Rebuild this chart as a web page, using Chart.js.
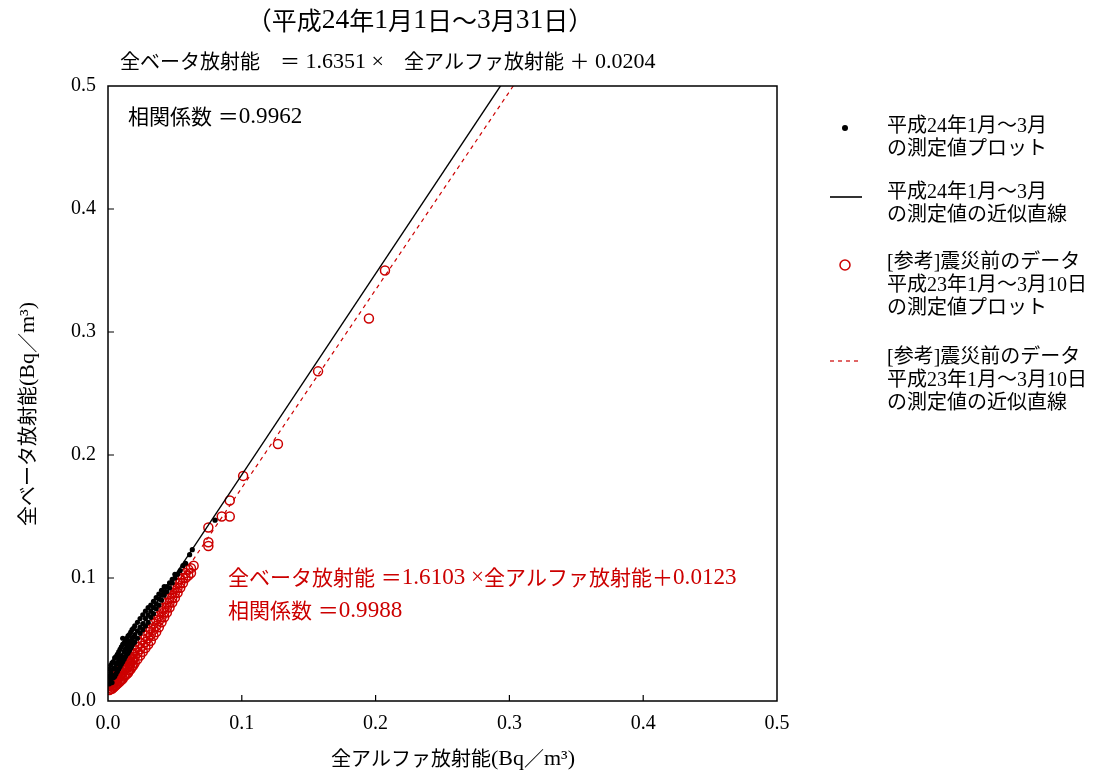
<!DOCTYPE html>
<html>
<head>
<meta charset="utf-8">
<script src="https://cdn.jsdelivr.net/npm/chart.js@4.4.1/dist/chart.umd.min.js"></script>
<style>
  html, body { margin: 0; padding: 0; background: #fff; }
  #wrap { width: 1097px; height: 776px; }
</style>
</head>
<body>
<div id="wrap"><canvas id="scatter" width="1097" height="776"></canvas></div>
<script>
// 平成24年1月～3月 の測定値 [全アルファ, 全ベータ] Bq/m3
const plot2012 = [
  [0.001,0.014],[0.001,0.020],[0.001,0.026],[0.002,0.017],[0.002,0.023],[0.002,0.029],
  [0.003,0.015],[0.003,0.021],[0.003,0.031],[0.004,0.019],[0.004,0.026],[0.004,0.032],
  [0.005,0.020],[0.005,0.027],[0.005,0.035],[0.006,0.022],[0.006,0.030],[0.006,0.036],
  [0.007,0.024],[0.007,0.031],[0.007,0.038],[0.008,0.026],[0.008,0.033],[0.008,0.040],
  [0.009,0.028],[0.009,0.035],[0.009,0.042],[0.010,0.030],[0.010,0.037],[0.010,0.044],
  [0.011,0.051],[0.011,0.032],[0.011,0.046],[0.012,0.034],[0.012,0.040],[0.012,0.047],
  [0.013,0.036],[0.013,0.042],[0.013,0.049],[0.014,0.038],[0.014,0.044],[0.014,0.051],
  [0.015,0.039],[0.015,0.046],[0.015,0.053],[0.016,0.041],[0.016,0.048],[0.016,0.054],
  [0.017,0.043],[0.017,0.049],[0.017,0.056],[0.018,0.045],[0.018,0.051],[0.018,0.058],
  [0.019,0.047],[0.019,0.052],[0.019,0.059],[0.020,0.048],[0.020,0.054],[0.020,0.061],
  [0.022,0.051],[0.022,0.057],[0.022,0.064],[0.024,0.055],[0.024,0.060],[0.024,0.067],
  [0.026,0.058],[0.026,0.063],[0.026,0.070],[0.028,0.061],[0.028,0.067],[0.028,0.073],
  [0.030,0.064],[0.030,0.070],[0.030,0.076],[0.032,0.068],[0.032,0.073],[0.032,0.078],
  [0.034,0.071],[0.034,0.076],[0.034,0.081],[0.036,0.075],[0.036,0.079],[0.036,0.084],
  [0.038,0.078],[0.038,0.083],[0.038,0.087],[0.040,0.082],[0.040,0.086],[0.040,0.090],
  [0.042,0.086],[0.042,0.089],[0.042,0.093],[0.044,0.089],[0.044,0.093],[0.046,0.092],
  [0.046,0.096],[0.048,0.096],[0.048,0.099],[0.050,0.100],[0.050,0.103],[0.052,0.103],
  [0.054,0.106],[0.056,0.110],[0.058,0.112],[0.061,0.119],[0.063,0.123],[0.080,0.147]
];

// 震災前 平成23年1月～3月10日 の測定値
const plot2011 = [
  [0.001,0.009],[0.001,0.012],[0.001,0.014],[0.002,0.010],[0.002,0.013],[0.002,0.015],
  [0.003,0.010],[0.003,0.014],[0.003,0.017],[0.004,0.011],[0.004,0.015],[0.004,0.018],
  [0.005,0.012],[0.005,0.016],[0.005,0.019],[0.006,0.013],[0.006,0.017],[0.006,0.021],
  [0.007,0.014],[0.007,0.018],[0.007,0.022],[0.008,0.015],[0.008,0.019],[0.008,0.023],
  [0.009,0.016],[0.009,0.020],[0.009,0.025],[0.010,0.017],[0.010,0.022],[0.010,0.026],
  [0.011,0.018],[0.011,0.023],[0.011,0.027],[0.012,0.020],[0.012,0.025],[0.012,0.029],
  [0.013,0.021],[0.013,0.026],[0.013,0.030],[0.014,0.022],[0.014,0.027],[0.014,0.032],
  [0.015,0.023],[0.015,0.028],[0.015,0.033],[0.016,0.025],[0.016,0.030],[0.016,0.035],
  [0.017,0.026],[0.017,0.031],[0.017,0.036],[0.018,0.028],[0.018,0.033],[0.018,0.038],
  [0.019,0.029],[0.019,0.034],[0.019,0.039],[0.020,0.031],[0.020,0.036],[0.020,0.041],
  [0.022,0.034],[0.022,0.039],[0.022,0.044],[0.024,0.037],[0.024,0.042],[0.024,0.047],
  [0.026,0.040],[0.026,0.045],[0.026,0.050],[0.028,0.043],[0.028,0.048],[0.028,0.053],
  [0.030,0.046],[0.030,0.051],[0.030,0.056],[0.032,0.049],[0.032,0.054],[0.032,0.059],
  [0.034,0.053],[0.034,0.058],[0.034,0.063],[0.036,0.056],[0.036,0.061],[0.036,0.066],
  [0.038,0.060],[0.038,0.065],[0.038,0.069],[0.040,0.064],[0.040,0.068],[0.040,0.073],
  [0.042,0.068],[0.042,0.072],[0.042,0.076],[0.044,0.072],[0.044,0.076],[0.044,0.080],
  [0.046,0.076],[0.046,0.080],[0.046,0.084],[0.048,0.080],[0.048,0.084],[0.048,0.088],
  [0.050,0.084],[0.050,0.088],[0.050,0.092],[0.052,0.088],[0.052,0.092],[0.052,0.096],
  [0.054,0.092],[0.054,0.096],[0.054,0.099],[0.056,0.096],[0.056,0.100],[0.058,0.100],
  [0.058,0.104],[0.060,0.102],[0.060,0.107],[0.062,0.104],[0.062,0.108],[0.064,0.110],
  [0.075,0.126],[0.075,0.129],[0.075,0.141],[0.085,0.150],[0.091,0.150],[0.091,0.163],
  [0.101,0.183],[0.127,0.209],[0.157,0.268],[0.195,0.311],[0.207,0.350]
];

// 近似直線 y = slope * x + intercept
const fit2012 = { slope: 1.6351, intercept: 0.0204, r: 0.9962 };
const fit2011 = { slope: 1.6103, intercept: 0.0123, r: 0.9988 };
const fitRange = [0, 0.32];

const axisTicks = [0.0, 0.1, 0.2, 0.3, 0.4, 0.5];

const legendItems = [
  { kind: "dot",    lines: ["平成24年1月～3月", "の測定値プロット"] },
  { kind: "line",   lines: ["平成24年1月～3月", "の測定値の近似直線"] },
  { kind: "circle", lines: ["[参考]震災前のデータ", "平成23年1月～3月10日", "の測定値プロット"] },
  { kind: "dash",   lines: ["[参考]震災前のデータ", "平成23年1月～3月10日", "の測定値の近似直線"] }
];

const RED = "#cc0000";
const LATIN = '"Liberation Serif", serif';
const CJK = '"Noto Sans CJK JP", sans-serif';
const FONT = '"Liberation Serif", "Noto Sans CJK JP", serif';

const toPoints = arr => arr.map(p => ({ x: p[0], y: p[1] }));
const fitLine = f => fitRange.map(x => ({ x, y: f.slope * x + f.intercept }));

// draw a string with latin runs a bit larger than the kanji/kana runs
function drawMixed(ctx, text, x, y, size, align) {
  const runs = [];
  for (const ch of text) {
    const latin = ch.charCodeAt(0) < 0x2000;
    const last = runs[runs.length - 1];
    if (last && last.latin === latin) last.t += ch;
    else runs.push({ t: ch, latin });
  }
  const fontOf = r => r.latin ? (size * 1.1) + "px " + LATIN : size + "px " + CJK;
  let total = 0;
  runs.forEach(r => { ctx.font = fontOf(r); r.w = ctx.measureText(r.t).width; total += r.w; });
  let cx = align === "center" ? x - total / 2 : x;
  ctx.textAlign = "left";
  ctx.textBaseline = "middle";
  runs.forEach(r => { ctx.font = fontOf(r); ctx.fillText(r.t, cx, y + (r.latin ? 1 : 0)); cx += r.w; });
}

const overlay = {
  id: "overlay",
  afterDraw(chart) {
    const { ctx, chartArea: a, scales } = chart;
    ctx.save();

    // frame
    ctx.strokeStyle = "#000";
    ctx.lineWidth = 1.5;
    ctx.strokeRect(a.left, a.top, a.right - a.left, a.bottom - a.top);

    // inward tick marks
    ctx.lineWidth = 1.2;
    ctx.beginPath();
    axisTicks.slice(1, -1).forEach(v => {
      const px = scales.x.getPixelForValue(v);
      ctx.moveTo(px, a.bottom);
      ctx.lineTo(px, a.bottom - 6);
      const py = scales.y.getPixelForValue(v);
      ctx.moveTo(a.left, py);
      ctx.lineTo(a.left + 6, py);
    });
    ctx.stroke();

    ctx.fillStyle = "#000";

    // titles
    drawMixed(ctx, "（平成24年1月1日～3月31日）", 420, 20, 25, "center");
    drawMixed(ctx, "全ベータ放射能　＝ " + fit2012.slope.toFixed(4) + " ×　全アルファ放射能 ＋ " +
      fit2012.intercept.toFixed(4), 120, 61, 20, "left");

    // correlation text inside the plot
    drawMixed(ctx, "相関係数 ＝" + fit2012.r.toFixed(4), 128, 116, 21, "left");
    ctx.fillStyle = RED;
    drawMixed(ctx, "全ベータ放射能 ＝" + fit2011.slope.toFixed(4) + " ×全アルファ放射能＋" +
      fit2011.intercept.toFixed(4), 228, 577, 21, "left");
    drawMixed(ctx, "相関係数 ＝" + fit2011.r.toFixed(4), 228, 610, 21, "left");

    // axis titles
    ctx.fillStyle = "#000";
    drawMixed(ctx, "全アルファ放射能(Bq／m³)", 453, 758, 20, "center");
    ctx.save();
    ctx.translate(27, 414);
    ctx.rotate(-Math.PI / 2);
    drawMixed(ctx, "全ベータ放射能(Bq／m³)", 0, 0, 20, "center");
    ctx.restore();

    // legend
    const tops = [127, 193, 263, 358];
    ctx.font = "20px " + FONT;
    ctx.textAlign = "left";
    ctx.textBaseline = "middle";
    legendItems.forEach((item, i) => {
      const y = tops[i];
      ctx.fillStyle = "#000";
      item.lines.forEach((t, j) => ctx.fillText(t, 887, y + j * 23));
      ctx.beginPath();
      if (item.kind === "dot") {
        ctx.arc(845, y + 1, 3, 0, Math.PI * 2);
        ctx.fill();
      } else if (item.kind === "line") {
        ctx.strokeStyle = "#000";
        ctx.lineWidth = 1.6;
        ctx.moveTo(830, y + 4);
        ctx.lineTo(862, y + 4);
        ctx.stroke();
      } else if (item.kind === "circle") {
        ctx.strokeStyle = RED;
        ctx.lineWidth = 1.5;
        ctx.arc(845, y + 2, 5, 0, Math.PI * 2);
        ctx.stroke();
      } else {
        ctx.strokeStyle = RED;
        ctx.lineWidth = 1.2;
        ctx.setLineDash([4, 4]);
        ctx.moveTo(830, y + 3);
        ctx.lineTo(862, y + 3);
        ctx.stroke();
        ctx.setLineDash([]);
      }
    });

    ctx.restore();
  }
};

new Chart(document.getElementById("scatter"), {
  type: "scatter",
  data: {
    datasets: [
      {
        label: "平成24年1月～3月の測定値プロット",
        data: toPoints(plot2012),
        pointStyle: "circle",
        pointRadius: 2.6,
        backgroundColor: "#000",
        borderColor: "#000",
        borderWidth: 0,
        order: 0
      },
      {
        label: "平成24年1月～3月の測定値の近似直線",
        data: fitLine(fit2012),
        showLine: true,
        pointRadius: 0,
        borderColor: "#000",
        borderWidth: 1.4,
        order: 1
      },
      {
        label: "[参考]震災前のデータ 測定値プロット",
        data: toPoints(plot2011),
        pointStyle: "circle",
        pointRadius: 4.5,
        backgroundColor: "rgba(0,0,0,0)",
        borderColor: RED,
        borderWidth: 1.5,
        order: 2
      },
      {
        label: "[参考]震災前のデータ 近似直線",
        data: fitLine(fit2011),
        showLine: true,
        pointRadius: 0,
        borderColor: RED,
        borderWidth: 1.2,
        borderDash: [4, 4],
        order: 3
      }
    ]
  },
  options: {
    responsive: false,
    animation: false,
    devicePixelRatio: 1,
    layout: { padding: { left: 0, top: 86, right: 320, bottom: 0 } },
    plugins: {
      legend: { display: false },
      tooltip: { enabled: false }
    },
    scales: {
      x: {
        type: "linear",
        min: 0,
        max: 0.5,
        afterFit: s => { s.height = 75; },
        afterBuildTicks: s => { s.ticks = axisTicks.map(v => ({ value: v })); },
        grid: { display: false, drawTicks: false },
        border: { display: false },
        ticks: {
          padding: 11,
          color: "#000",
          font: { family: LATIN, size: 20 },
          callback: v => v.toFixed(1)
        }
      },
      y: {
        type: "linear",
        min: 0,
        max: 0.5,
        afterFit: s => { s.width = 108; },
        afterBuildTicks: s => { s.ticks = axisTicks.map(v => ({ value: v })); },
        grid: { display: false, drawTicks: false },
        border: { display: false },
        ticks: {
          padding: 12,
          color: "#000",
          font: { family: LATIN, size: 20 },
          callback: v => v.toFixed(1)
        }
      }
    }
  },
  plugins: [overlay]
});
</script>
</body>
</html>
